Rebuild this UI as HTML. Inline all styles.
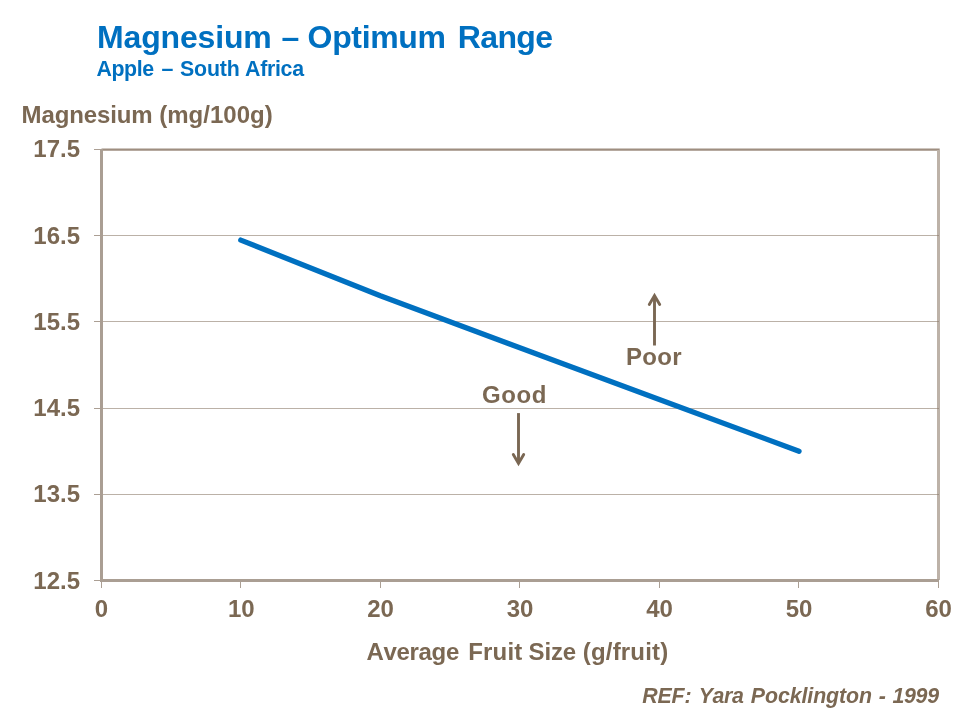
<!DOCTYPE html>
<html lang="en">
<head>
<meta charset="utf-8">
<title>Magnesium – Optimum Range</title>
<style>
html,body{margin:0;padding:0;background:#fff;}
body{width:960px;height:720px;overflow:hidden;position:relative;font-family:"Liberation Sans",sans-serif;}
svg{position:absolute;left:0;top:0;display:block;}
text{font-family:"Liberation Sans",sans-serif;font-weight:bold;font-kerning:none;}
.t{fill:#0070c0;}
.b{fill:#7b6853;}
</style>
</head>
<body>
<svg width="960" height="720" viewBox="0 0 960 720">
  <rect x="0" y="0" width="960" height="720" fill="#ffffff"/>
  <!-- plot border top/right -->
  <line x1="101.5" y1="149.6" x2="939.7" y2="149.6" stroke="#9e8e80" stroke-width="2.2"/>
  <rect x="937" y="150" width="3" height="430" fill="#bdb2a8" shape-rendering="crispEdges"/>
  <!-- gridlines -->
  <g stroke="rgba(140,122,105,0.59)" stroke-width="1" shape-rendering="crispEdges">
    <line x1="103" y1="235.5" x2="939" y2="235.5"/>
    <line x1="103" y1="321.5" x2="939" y2="321.5"/>
    <line x1="103" y1="408.5" x2="939" y2="408.5"/>
    <line x1="103" y1="494.5" x2="939" y2="494.5"/>
  </g>
  <!-- axes -->
  <g fill="#aa9e93" shape-rendering="crispEdges">
    <rect x="100" y="149" width="3" height="433"/>
    <rect x="100" y="579" width="839" height="3"/>
  </g>
  <!-- ticks -->
  <g stroke="#ab9f94" stroke-width="1" shape-rendering="crispEdges">
    <line x1="94" y1="149.5" x2="100" y2="149.5"/>
    <line x1="94" y1="235.5" x2="100" y2="235.5"/>
    <line x1="94" y1="321.5" x2="100" y2="321.5"/>
    <line x1="94" y1="408.5" x2="100" y2="408.5"/>
    <line x1="94" y1="494.5" x2="100" y2="494.5"/>
    <line x1="94" y1="580.5" x2="100" y2="580.5"/>
    <line x1="101.5" y1="582" x2="101.5" y2="588"/>
    <line x1="240.5" y1="582" x2="240.5" y2="588"/>
    <line x1="380.5" y1="582" x2="380.5" y2="588"/>
    <line x1="519.5" y1="582" x2="519.5" y2="588"/>
    <line x1="659.5" y1="582" x2="659.5" y2="588"/>
    <line x1="798.5" y1="582" x2="798.5" y2="588"/>
    <line x1="938.5" y1="582" x2="938.5" y2="588"/>
  </g>
  <!-- data line -->
  <polyline points="240.8,240.1 380.3,295.8 519.8,347.8 659.3,399.4 799,451.2" fill="none" stroke="#0070c0" stroke-width="5.33" stroke-linecap="round" stroke-linejoin="round"/>
  <!-- arrows -->
  <g fill="none" stroke="#7a6753" stroke-width="2.9" stroke-linecap="round" stroke-linejoin="miter" stroke-miterlimit="10">
    <line x1="654.5" y1="345.5" x2="654.5" y2="296" stroke-linecap="butt"/>
    <polyline points="649.3,304.5 654.5,295.6 659.7,304.5"/>
    <line x1="518.5" y1="413.1" x2="518.5" y2="463" stroke-linecap="butt"/>
    <polyline points="513.3,454.4 518.5,463.4 523.7,454.4"/>
  </g>
  <!-- titles -->
  <text class="t" y="48" font-size="32"><tspan x="97.1" textLength="174.7" lengthAdjust="spacing">Magnesium</tspan> <tspan x="281.6">–</tspan> <tspan x="307.6" textLength="138.4" lengthAdjust="spacing">Optimum</tspan> <tspan x="457.7" textLength="95.4" lengthAdjust="spacing">Range</tspan></text>
  <text class="t" y="75.7" font-size="21.33"><tspan x="96.4" textLength="57.8" lengthAdjust="spacing">Apple</tspan> <tspan x="161.6">–</tspan> <tspan x="179.95" textLength="59.9" lengthAdjust="spacing">South</tspan> <tspan x="245.05" textLength="59.0" lengthAdjust="spacing">Africa</tspan></text>
  <text class="b" y="123" font-size="24"><tspan x="21.6" textLength="131.0" lengthAdjust="spacing">Magnesium</tspan> <tspan x="159.3" textLength="113.36" lengthAdjust="spacing">(mg/100g)</tspan></text>
  <!-- y labels -->
  <g class="b" font-size="24" text-anchor="end">
    <text x="80" y="157">17.5</text>
    <text x="80" y="244">16.5</text>
    <text x="80" y="330">15.5</text>
    <text x="80" y="416">14.5</text>
    <text x="80" y="502">13.5</text>
    <text x="80" y="589">12.5</text>
  </g>
  <!-- x labels -->
  <g class="b" font-size="24" text-anchor="middle">
    <text x="101.5" y="617">0</text>
    <text x="241.3" y="617">10</text>
    <text x="380.5" y="617">20</text>
    <text x="520" y="617">30</text>
    <text x="659.5" y="617">40</text>
    <text x="799" y="617">50</text>
    <text x="938.5" y="617">60</text>
  </g>
  <text class="b" y="659.8" font-size="24"><tspan x="366.4" textLength="92.9" lengthAdjust="spacing">Average</tspan> <tspan x="468.15" textLength="54.2" lengthAdjust="spacing">Fruit</tspan> <tspan x="528.5" textLength="47.7" lengthAdjust="spacing">Size</tspan> <tspan x="582.8" textLength="85.4" lengthAdjust="spacing">(g/fruit)</tspan></text>
  <text class="b" x="626.1" y="364.7" font-size="24" textLength="55.4" lengthAdjust="spacing">Poor</text>
  <text class="b" x="481.9" y="402.8" font-size="24" textLength="64.4" lengthAdjust="spacing">Good</text>
  <text class="b" y="702.5" font-size="21.33" font-style="italic"><tspan x="642.35" textLength="49.2" lengthAdjust="spacing">REF:</tspan> <tspan x="698.67" textLength="45.1" lengthAdjust="spacing">Yara</tspan> <tspan x="750.84" textLength="121.2" lengthAdjust="spacing">Pocklington</tspan> <tspan x="878.81">-</tspan> <tspan x="892.6" textLength="46.4" lengthAdjust="spacing">1999</tspan></text>
</svg>
</body>
</html>
